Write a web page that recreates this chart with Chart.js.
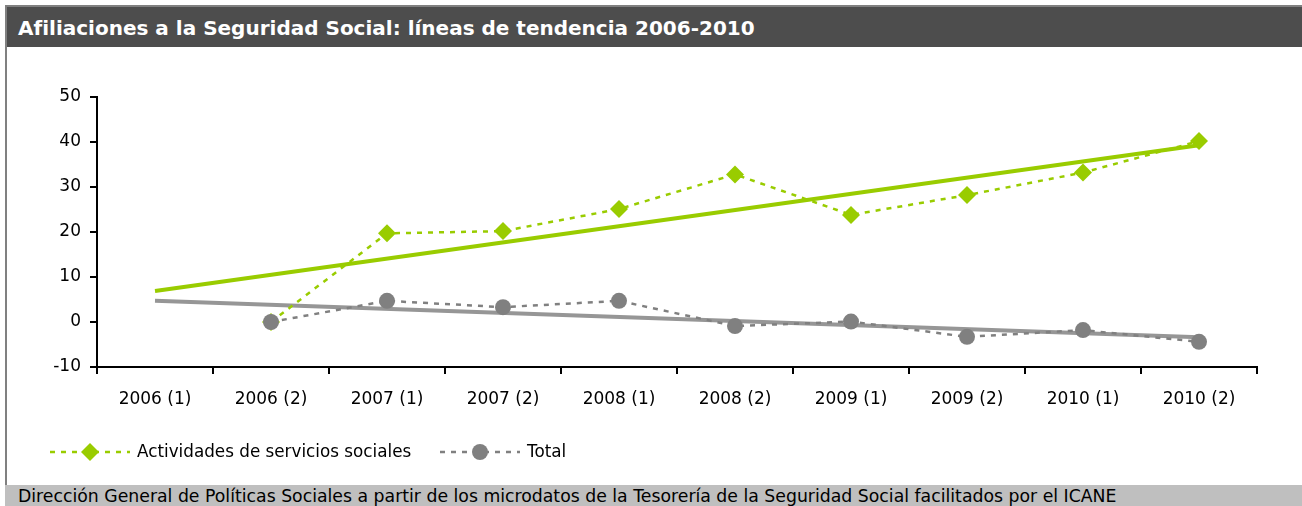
<!DOCTYPE html>
<html lang="es">
<head>
<meta charset="utf-8">
<title>Afiliaciones a la Seguridad Social</title>
<script src="https://cdn.jsdelivr.net/npm/chart.js"></script>
<style>
  body { margin: 0; background: #fff; width: 1302px; height: 506px; overflow: hidden; position: relative; font-family: "DejaVu Sans", sans-serif; }
  #frame { position: absolute; left: 5px; top: 5px; width: 1297px; height: 480px; border-left: 2px solid #808080; border-top: 2px solid #808080; box-sizing: border-box; }
  #title { position: absolute; left: 7px; top: 7px; width: 1295px; height: 40px; background: #4d4d4d; color: #fff; font-weight: bold; font-size: 20px; line-height: 42px; padding-left: 11px; box-sizing: border-box; white-space: nowrap; }
  #footer { position: absolute; left: 5px; top: 485px; width: 1297px; height: 21px; background: #bfbfbf; color: #000; font-size: 17.3px; line-height: 23px; padding-left: 13px; box-sizing: border-box; white-space: nowrap; }
  #wrap { position: absolute; left: 8px; top: 48px; width: 1294px; height: 437px; }
</style>
</head>
<body>
<div id="frame"></div>
<div id="title">Afiliaciones a la Seguridad Social: líneas de tendencia 2006-2010</div>
<div id="wrap"><canvas id="chart"></canvas></div>
<div id="footer">Dirección General de Políticas Sociales a partir de los microdatos de la Tesorería de la Seguridad Social facilitados por el ICANE</div>

<script>
// data
const periods = ['2006 (1)', '2006 (2)', '2007 (1)', '2007 (2)', '2008 (1)', '2008 (2)', '2009 (1)', '2009 (2)', '2010 (1)', '2010 (2)'];
const serviciosSociales = [null, 0, 19.7, 20.2, 25.1, 32.8, 23.8, 28.2, 33.2, 40.2];
const total = [null, 0, 4.7, 3.3, 4.7, -0.9, 0.1, -3.3, -1.8, -4.4];
// trend lines: only the two ends, joined across the gaps
const trendServicios = [6.9, null, null, null, null, null, null, null, null, 39.3];
const trendTotal = [4.7, null, null, null, null, null, null, null, null, -3.4];

const green = '#99cc00';
const grey = '#808080';
const fontFam = '"DejaVu Sans", sans-serif';

// legend drawn by hand: dashed line + marker + label
const legendPlugin = {
  id: 'customLegend',
  afterDraw(chart) {
    const ctx = chart.ctx;
    const items = [
      { ds: chart.data.datasets[0], x: 42 },
      { ds: chart.data.datasets[1], x: 432 }
    ];
    const y = 404;
    items.forEach(it => {
      const ds = it.ds;
      ctx.save();
      ctx.strokeStyle = ds.borderColor;
      ctx.lineWidth = 2.5;
      ctx.setLineDash(ds.borderDash);
      ctx.beginPath();
      ctx.moveTo(it.x, y);
      ctx.lineTo(it.x + 80, y);
      ctx.stroke();
      ctx.setLineDash([]);
      ctx.fillStyle = ds.pointBackgroundColor;
      ctx.beginPath();
      const r = ds.pointRadius;
      if (ds.pointStyle === 'circle') {
        ctx.arc(it.x + 40, y, r, 0, Math.PI * 2);
      } else {
        ctx.moveTo(it.x + 40, y - r);
        ctx.lineTo(it.x + 40 + r, y);
        ctx.lineTo(it.x + 40, y + r);
        ctx.lineTo(it.x + 40 - r, y);
        ctx.closePath();
      }
      ctx.fill();
      ctx.fillStyle = '#000';
      ctx.font = '16.8px ' + fontFam;
      ctx.textBaseline = 'middle';
      ctx.fillText(ds.label, it.x + 87, y + 1);
      ctx.restore();
    });
  }
};

new Chart(document.getElementById('chart'), {
  type: 'line',
  data: {
    labels: periods,
    datasets: [
      {
        label: 'Actividades de servicios sociales',
        data: serviciosSociales,
        borderColor: green,
        backgroundColor: green,
        pointBackgroundColor: green,
        pointBorderColor: green,
        pointBorderWidth: 0,
        borderWidth: 2.5,
        borderDash: [5, 6],
        pointStyle: 'rectRot',
        pointRadius: 9,
        tension: 0,
        order: 2
      },
      {
        label: 'Total',
        data: total,
        borderColor: grey,
        backgroundColor: grey,
        pointBackgroundColor: grey,
        pointBorderColor: grey,
        pointBorderWidth: 0,
        borderWidth: 2.5,
        borderDash: [5, 6],
        pointStyle: 'circle',
        pointRadius: 8,
        tension: 0,
        order: 1
      },
      {
        label: 'Tendencia servicios sociales',
        data: trendServicios,
        borderColor: green,
        borderWidth: 4,
        pointRadius: 0,
        spanGaps: true,
        order: 3
      },
      {
        label: 'Tendencia total',
        data: trendTotal,
        borderColor: '#969696',
        borderWidth: 4,
        pointRadius: 0,
        spanGaps: true,
        order: 4
      }
    ]
  },
  options: {
    responsive: true,
    maintainAspectRatio: false,
    animation: false,
    layout: { padding: { top: 49, right: 45, left: 0, bottom: 78 } },
    plugins: {
      legend: { display: false },
      tooltip: { enabled: false }
    },
    scales: {
      x: {
        offset: true,
        grid: { offset: true, drawOnChartArea: false, drawTicks: true, tickLength: 7, color: '#000', lineWidth: 2 },
        border: { color: '#000', width: 2 },
        ticks: { color: '#000', font: { family: fontFam, size: 17 }, padding: 15, maxRotation: 0 },
        afterFit(scale) { scale.height = 40; }
      },
      y: {
        min: -10,
        max: 50,
        ticks: { stepSize: 10, color: '#000', font: { family: fontFam, size: 17 }, padding: 9 },
        grid: { drawOnChartArea: false, drawTicks: true, tickLength: 7, color: '#000', lineWidth: 2 },
        border: { color: '#000', width: 2 },
        afterFit(scale) { scale.width = 89; }
      }
    }
  },
  plugins: [legendPlugin]
});
</script>
</body>
</html>
